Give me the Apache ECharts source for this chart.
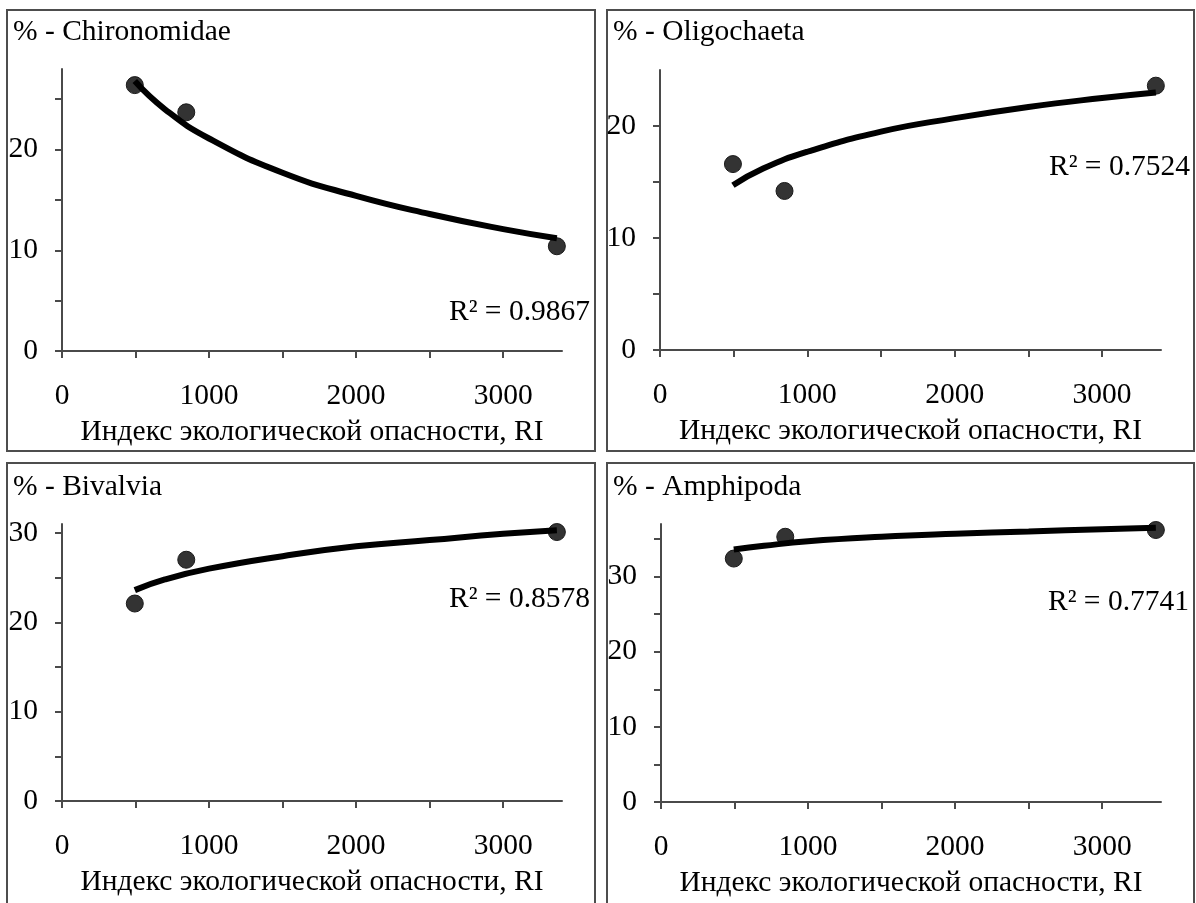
<!DOCTYPE html>
<html>
<head>
<meta charset="utf-8">
<script src="https://cdn.jsdelivr.net/npm/echarts@6/dist/echarts.min.js"></script>
<style>
html,body{margin:0;padding:0;background:#fff;}
#chart{width:1196px;height:903px;}
</style>
</head>
<body>
<div id="chart"></div>
<script>
// ---- data ----
const riValues = [495, 845, 3365];              // Индекс экологической опасности, RI
const trendRI = [495, 700, 1000, 1500, 2000, 2500, 3000, 3365];

const chironomidae = [26.4, 23.7, 10.4];
const oligochaeta  = [16.6, 14.2, 23.6];
const bivalvia     = [22.1, 27.0, 30.1];
const amphipoda    = [32.4, 35.3, 36.2];

const chironomidaeTrend = [26.8, 24.0, 21.1, 17.7, 15.4, 13.6, 12.1, 11.2];
const oligochaetaTrend  = [14.7, 16.2, 17.7, 19.5, 20.7, 21.7, 22.5, 23.0];
const bivalviaTrend     = [23.6, 24.8, 26.0, 27.4, 28.5, 29.2, 29.9, 30.3];
const amphipodaTrend    = [33.6, 34.1, 34.7, 35.3, 35.7, 36.0, 36.3, 36.5];

const panelTitles = ['% - Chironomidae', '% - Oligochaeta', '% - Bivalvia', '% - Amphipoda'];
const r2Labels = ['R² = 0.9867', 'R² = 0.7524', 'R² = 0.8578', 'R² = 0.7741'];
const xAxisName = 'Индекс экологической опасности, RI';
const xTickLabels = [0, 1000, 2000, 3000];
const xTicks = [0, 500, 1000, 1500, 2000, 2500, 3000];
const yMaxes = [28, 25, 31, 37];
const yTickLabels = [[0, 10, 20], [0, 10, 20], [0, 10, 20, 30], [0, 10, 20, 30]];
const yTicks = [[0, 5, 10, 15, 20, 25], [0, 5, 10, 15, 20], [0, 5, 10, 15, 20, 25, 30], [0, 5, 10, 15, 20, 25, 30, 35]];

// ---- layout ----
const FONT = "'Liberation Serif', 'Times New Roman', serif";
const FS = 29.5;
const grids = [
  {left: 62,  top: 69,  width: 500, height: 282},
  {left: 660, top: 70,  width: 501, height: 280},
  {left: 62,  top: 524, width: 500, height: 277},
  {left: 661, top: 524, width: 500, height: 278}
];
const boxes = [
  {x: 7,   y: 10,  width: 588, height: 441},
  {x: 607, y: 10,  width: 587, height: 441},
  {x: 7,   y: 463, width: 588, height: 441},
  {x: 607, y: 463, width: 587, height: 441}
];
const titlePos = [[13, 32], [613, 32], [13, 487], [613, 487]];
const r2Pos = [[590, 312], [1190, 167], [590, 599], [1189, 602]];

const scatterData = [chironomidae, oligochaeta, bivalvia, amphipoda];
const trendData = [chironomidaeTrend, oligochaetaTrend, bivalviaTrend, amphipodaTrend];

const axisColor = '#4a4a4a';
const xAxes = [], yAxes = [], series = [], graphics = [];
const plain = v => String(v);

for (let i = 0; i < 4; i++) {
  xAxes.push({
    type: 'value', gridIndex: i, min: 0, max: 3400,
    axisLine: {show: true, onZero: false, lineStyle: {color: axisColor, width: 2}},
    axisTick: {show: true, length: 7, customValues: xTicks, lineStyle: {color: axisColor, width: 2}},
    axisLabel: {customValues: xTickLabels, formatter: plain, margin: 30, color: '#000', fontFamily: FONT, fontSize: FS},
    splitLine: {show: false},
    name: xAxisName, nameLocation: 'middle', nameGap: 66,
    nameTextStyle: {color: '#000', fontFamily: FONT, fontSize: FS}
  });
  yAxes.push({
    type: 'value', gridIndex: i, min: 0, max: yMaxes[i],
    axisLine: {show: true, onZero: false, lineStyle: {color: axisColor, width: 2}},
    axisTick: {show: true, length: 7, customValues: yTicks[i], lineStyle: {color: axisColor, width: 2}},
    axisLabel: {customValues: yTickLabels[i], formatter: plain, margin: 24, color: '#000', fontFamily: FONT, fontSize: FS},
    splitLine: {show: false}
  });
  series.push({
    type: 'scatter', xAxisIndex: i, yAxisIndex: i, z: 2,
    symbol: 'circle', symbolSize: 17,
    itemStyle: {color: '#333', borderColor: '#1a1a1a', borderWidth: 1, opacity: 1},
    data: riValues.map((x, j) => [x, scatterData[i][j]])
  });
  series.push({
    type: 'line', xAxisIndex: i, yAxisIndex: i, z: 3,
    smooth: true, showSymbol: false, symbol: 'none',
    lineStyle: {color: '#000', width: 6},
    data: trendRI.map((x, j) => [x, trendData[i][j]])
  });
  graphics.push({
    type: 'rect', shape: boxes[i], z: 0,
    style: {fill: 'none', stroke: '#4d4d4d', lineWidth: 2}
  });
  graphics.push({
    type: 'text', x: titlePos[i][0], y: titlePos[i][1],
    style: {text: panelTitles[i], fill: '#000', font: FS + 'px ' + FONT, textAlign: 'left', textVerticalAlign: 'middle'}
  });
  graphics.push({
    type: 'text', x: r2Pos[i][0], y: r2Pos[i][1],
    style: {text: r2Labels[i], fill: '#000', font: FS + 'px ' + FONT, textAlign: 'right', textVerticalAlign: 'middle'}
  });
}

const chart = echarts.init(document.getElementById('chart'), null, {renderer: 'canvas'});
chart.setOption({
  animation: false,
  backgroundColor: '#fff',
  grid: grids,
  xAxis: xAxes,
  yAxis: yAxes,
  series: series,
  graphic: graphics
});
</script>
</body>
</html>
